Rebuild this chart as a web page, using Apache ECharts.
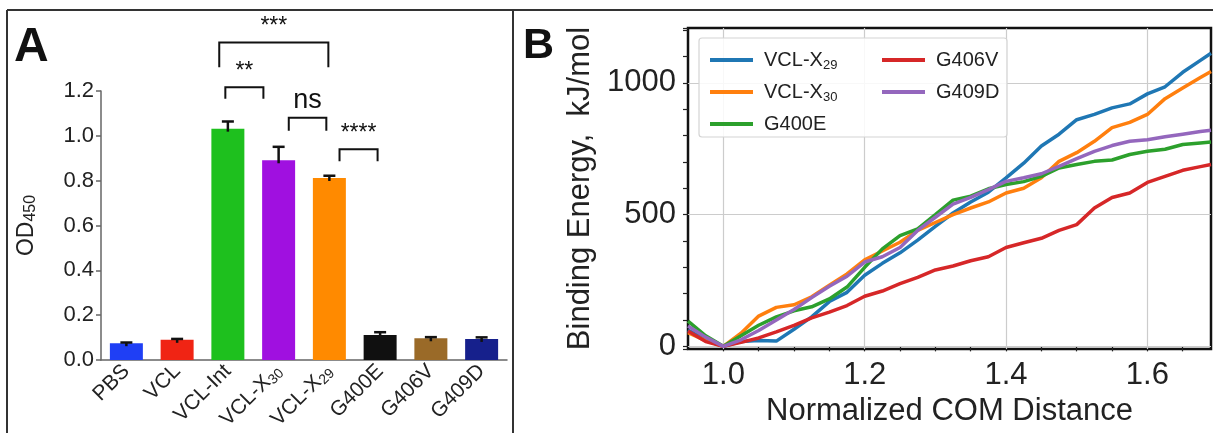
<!DOCTYPE html>
<html>
<head>
<meta charset="utf-8">
<script src="https://cdn.jsdelivr.net/npm/echarts@6/dist/echarts.min.js"></script>
<style>
html,body{margin:0;padding:0;background:#fff;}
#chart{width:1213px;height:433px;}
</style>
</head>
<body>
<div id="chart"></div>
<script>
// ---- panel A : OD450 bars ----
var groups = ['PBS', 'VCL', 'VCL-Int', 'VCL-X30', 'VCL-X29', 'G400E', 'G406V', 'G409D'];
var od450 = [0.075, 0.09, 1.032, 0.891, 0.812, 0.112, 0.097, 0.094];
var od450Upper = [0.078, 0.094, 1.064, 0.951, 0.822, 0.124, 0.102, 0.101];
var barColors = ['#1f3ff5', '#f02414', '#1ec01e', '#a010e0', '#ff8a00', '#101010', '#9a6a28', '#16208c'];

// significance brackets (positions in category index units / OD units)
var sigFrom = [1.83, 1.95, 3.2, 4.2];
var sigTo = [3.98, 2.7, 3.94, 4.95];
var sigTop = [1.416, 1.217, 1.081, 0.94];
var sigLeg = [1.306, 1.165, 1.023, 0.887];
var sigText = ['***', '**', 'ns', '****'];

// ---- panel B : binding energy vs distance ----
var dist = [0.95, 0.975, 1.0, 1.025, 1.05, 1.075, 1.1, 1.125, 1.15, 1.175, 1.2, 1.225, 1.25, 1.275, 1.3,
    1.325, 1.35, 1.375, 1.4, 1.425, 1.45, 1.475, 1.5, 1.525, 1.55, 1.575, 1.6, 1.625, 1.65, 1.675, 1.69];
var bindX29 = [62, 25, 0, 18, 22, 20, 65, 112, 170, 205, 270, 315, 355, 403, 455,
    506, 548, 585, 639, 695, 760, 805, 860, 880, 905, 920, 958, 985, 1040, 1085, 1112];
var bindX30 = [52, 22, 0, 50, 115, 148, 158, 188, 232, 275, 328, 362, 395, 440, 470,
    500, 525, 548, 582, 600, 640, 702, 735, 778, 830, 850, 880, 940, 980, 1020, 1043];
var bindG400E = [96, 40, 0, 40, 80, 112, 135, 150, 180, 225, 300, 370, 420, 446, 500,
    555, 570, 598, 614, 625, 645, 677, 690, 702, 707, 728, 740, 748, 766, 772, 775];
var bindG406V = [58, 18, 0, 15, 32, 55, 80, 108, 130, 155, 190, 210, 238, 262, 290,
    305, 325, 340, 375, 393, 410, 440, 462, 525, 565, 582, 622, 645, 668, 682, 690];
var bindG409D = [77, 35, 0, 25, 60, 100, 140, 185, 228, 266, 320, 340, 375, 440, 490,
    540, 565, 595, 626, 640, 655, 683, 712, 740, 762, 778, 784, 795, 805, 815, 820];
var lineNames = ['VCL-X29', 'VCL-X30', 'G400E', 'G406V', 'G409D'];
var lineColors = ['#1f77b4', '#ff7f0e', '#2ca02c', '#d62728', '#9467bd'];
var gridX = [1.0, 1.2, 1.4, 1.6];
var gridY = [0, 500, 1000];

var FONT = '"Liberation Sans", Arial, sans-serif';
function subName(s) {
    return s.replace(/X(\d+)$/, 'X{sub|$1}');
}

var chart = echarts.init(document.getElementById('chart'));

var lineSeries = [bindX29, bindX30, bindG400E, bindG406V, bindG409D].map(function (arr, k) {
    var s = {
        name: lineNames[k],
        type: 'line',
        xAxisIndex: 1,
        yAxisIndex: 1,
        showSymbol: false,
        symbol: 'none',
        color: lineColors[k],
        lineStyle: {width: 3.5, color: lineColors[k]},
        data: dist.map(function (d, i) { return [d, arr[i]]; }),
        z: 3
    };
    if (k === 0) {
        s.markLine = {
            silent: true,
            symbol: ['none', 'none'],
            z: 1,
            label: {show: false},
            lineStyle: {color: '#cccccc', width: 1.2, type: 'solid'},
            data: gridX.map(function (v) { return {xAxis: v}; })
                .concat(gridY.map(function (v) { return {yAxis: v}; }))
        };
    }
    return s;
});

chart.setOption({
    animation: false,
    textStyle: {fontFamily: FONT},
    grid: [
        {left: 101, right: 706, top: 91, bottom: 70},
        {left: 688, right: 2, top: 28, bottom: 84, show: true, borderColor: '#111', borderWidth: 2.5, backgroundColor: 'transparent'}
    ],
    xAxis: [
        {
            type: 'category',
            gridIndex: 0,
            data: groups,
            axisLine: {lineStyle: {color: '#666', width: 1.5}},
            axisTick: {alignWithLabel: true, length: 5, lineStyle: {color: '#666', width: 1.5}},
            axisLabel: {
                rotate: 45, margin: 8, color: '#222', fontSize: 21, fontFamily: FONT,
                formatter: subName,
                rich: {sub: {fontSize: 14, fontFamily: FONT, color: '#222', verticalAlign: 'bottom', padding: [9, 0, 0, 0]}}
            }
        },
        {
            type: 'value',
            gridIndex: 1,
            min: 0.95, max: 1.69, interval: 0.05,
            axisLine: {show: false},
            axisTick: {show: true, length: 5, lineStyle: {color: '#222', width: 1.2}},
            splitLine: {show: false},
            axisLabel: {
                color: '#222', fontSize: 31, margin: 11, fontFamily: FONT,
                showMinLabel: false, showMaxLabel: false,
                formatter: function (v) {
                    return Math.abs(v * 5 - Math.round(v * 5)) < 1e-6 ? v.toFixed(1) : '';
                }
            },
            name: 'Normalized COM Distance',
            nameLocation: 'middle',
            nameGap: 46,
            nameTextStyle: {fontSize: 31, color: '#222', fontFamily: FONT}
        }
    ],
    yAxis: [
        {
            type: 'value',
            gridIndex: 0,
            min: 0, max: 1.2, interval: 0.2,
            axisLine: {show: true, lineStyle: {color: '#666', width: 1.5}},
            axisTick: {show: true, length: 5, lineStyle: {color: '#666', width: 1.5}},
            splitLine: {show: false},
            axisLabel: {
                color: '#222', fontSize: 22, margin: 7, fontFamily: FONT,
                formatter: function (v) { return v.toFixed(1); }
            },
            name: 'OD{sub|450}',
            nameLocation: 'middle',
            nameRotate: 90,
            nameGap: 62,
            nameTextStyle: {
                fontSize: 23, color: '#222', fontFamily: FONT,
                rich: {sub: {fontSize: 16, fontFamily: FONT, color: '#222', verticalAlign: 'bottom', padding: [9, 0, 0, 0]}}
            }
        },
        {
            type: 'value',
            gridIndex: 1,
            min: -10, max: 1208, minInterval: 100, maxInterval: 100,
            axisLine: {show: false},
            axisTick: {show: true, length: 5, lineStyle: {color: '#222', width: 1.2}},
            splitLine: {show: false},
            axisLabel: {
                color: '#222', fontSize: 31, margin: 12, fontFamily: FONT,
                formatter: function (v) { return (v >= 0 && v % 500 === 0) ? String(v) : ''; }
            },
            name: 'Binding Energy,  kJ/mol',
            nameLocation: 'middle',
            nameGap: 92,
            nameTextStyle: {fontSize: 31, color: '#222', fontFamily: FONT}
        }
    ],
    legend: [
        {
            data: lineNames.slice(0, 3),
            orient: 'vertical', left: 705, top: 43, itemGap: 8,
            itemWidth: 43, itemHeight: 4, icon: 'rect',
            formatter: subName,
            textStyle: {
                fontSize: 20, color: '#222', fontFamily: FONT, padding: [0, 0, 0, 6], lineHeight: 24,
                rich: {sub: {fontSize: 13, fontFamily: FONT, color: '#222', verticalAlign: 'bottom', padding: [8, 0, 0, 0]}}
            }
        },
        {
            data: lineNames.slice(3),
            orient: 'vertical', left: 877, top: 43, itemGap: 8,
            itemWidth: 43, itemHeight: 4, icon: 'rect',
            textStyle: {fontSize: 20, color: '#222', fontFamily: FONT, padding: [0, 0, 0, 6], lineHeight: 24}
        }
    ],
    graphic: [
        {type: 'line', shape: {x1: 7, y1: 10, x2: 1213, y2: 10}, style: {stroke: '#333', lineWidth: 2}},
        {type: 'line', shape: {x1: 7, y1: 10, x2: 7, y2: 433}, style: {stroke: '#333', lineWidth: 2}},
        {type: 'line', shape: {x1: 513, y1: 10, x2: 513, y2: 433}, style: {stroke: '#333', lineWidth: 2}},
        {type: 'text', left: 14, top: 24, style: {text: 'A', font: 'bold 48px ' + FONT, fill: '#111'}},
        {type: 'text', left: 523, top: 25, style: {text: 'B', font: 'bold 43px ' + FONT, fill: '#111'}},
        {type: 'rect', z: 3, shape: {x: 699, y: 38, width: 308, height: 99, r: 3},
            style: {fill: 'rgba(255,255,255,0.85)', stroke: '#d4d4d4', lineWidth: 1.2}}
    ],
    series: [
        {
            name: 'OD450',
            type: 'bar',
            xAxisIndex: 0,
            yAxisIndex: 0,
            barWidth: '65%',
            data: od450.map(function (v, i) {
                return {value: v, itemStyle: {color: barColors[i]}};
            })
        },
        {
            name: 'err',
            type: 'custom',
            xAxisIndex: 0,
            yAxisIndex: 0,
            encode: {x: 0, y: [1, 2]},
            data: od450.map(function (v, i) { return [i, v, od450Upper[i]]; }),
            renderItem: function (params, api) {
                var i = api.value(0);
                var top = api.coord([i, api.value(2)]);
                var base = api.coord([i, api.value(1)]);
                var st = {stroke: '#111', lineWidth: 2.5};
                return {
                    type: 'group',
                    children: [
                        {type: 'line', shape: {x1: top[0], y1: top[1], x2: base[0], y2: base[1] + 3}, style: st},
                        {type: 'line', shape: {x1: top[0] - 6, y1: top[1], x2: top[0] + 6, y2: top[1]}, style: st}
                    ]
                };
            },
            z: 4
        },
        {
            name: 'sig',
            type: 'custom',
            xAxisIndex: 0,
            yAxisIndex: 0,
            clip: false,
            encode: {x: 0, y: [1, 4]},
            data: sigTop.map(function (t, k) { return [0, t, sigFrom[k], sigTo[k], sigLeg[k], k]; }),
            renderItem: function (params, api) {
                var p0 = api.coord([0, api.value(1)]);
                var band = api.size([1, 0])[0];
                var x1 = p0[0] + api.value(2) * band;
                var x2 = p0[0] + api.value(3) * band;
                var yTop = p0[1];
                var yLeg = api.coord([0, api.value(4)])[1];
                var txt = sigText[api.value(5)];
                return {
                    type: 'group',
                    children: [
                        {type: 'polyline', shape: {points: [[x1, yLeg], [x1, yTop], [x2, yTop], [x2, yLeg]]},
                            style: {stroke: '#111', lineWidth: 2, fill: null}},
                        {type: 'text', x: (x1 + x2) / 2, y: yTop - 4,
                            style: {text: txt, fill: '#111', align: 'center', verticalAlign: 'bottom',
                                font: (txt === 'ns' ? '27px ' : '23px ') + FONT}}
                    ]
                };
            }
        }
    ].concat(lineSeries)
});
</script>
</body>
</html>
